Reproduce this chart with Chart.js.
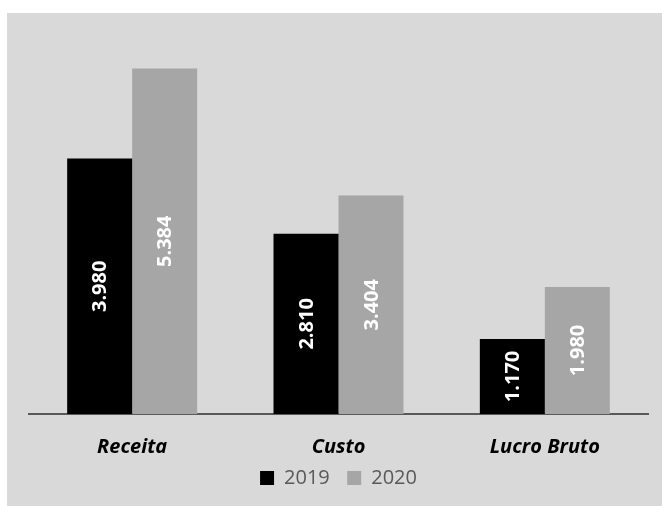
<!DOCTYPE html>
<html>
<head>
<meta charset="utf-8">
<script src="https://cdn.jsdelivr.net/npm/chart.js@4.4.1/dist/chart.umd.min.js"></script>
<style>
  html, body { margin: 0; padding: 0; background: #fff; }
  #wrap { position: absolute; left: 7px; top: 13px; width: 655px; height: 493px; background: #d9d9d9; }
</style>
</head>
<body>
<div id="wrap"><canvas id="chart" width="655" height="493"></canvas></div>
<script>
const categories = ['Receita', 'Custo', 'Lucro Bruto'];
const years = ['2019', '2020'];
const values2019 = [3980, 2810, 1170];
const values2020 = [5384, 3404, 1980];

function fmt(v) {
  return String(v).replace(/\B(?=(\d{3})+(?!\d))/g, '.');
}

// rotated white value inside each bar
const barLabels = {
  id: 'barLabels',
  afterDatasetsDraw(chart) {
    const ctx = chart.ctx;
    ctx.save();
    ctx.fillStyle = '#fff';
    ctx.font = 'bold 20px "Open Sans"';
    ctx.textAlign = 'center';
    ctx.textBaseline = 'middle';
    chart.data.datasets.forEach((ds, i) => {
      chart.getDatasetMeta(i).data.forEach((bar, j) => {
        const cy = (bar.y + bar.base) / 2;
        ctx.save();
        ctx.translate(bar.x, cy);
        ctx.rotate(-Math.PI / 2);
        ctx.fillText(fmt(ds.data[j]), 0, 1);
        ctx.restore();
      });
    });
    ctx.restore();
  }
};

Chart.defaults.font.family = '"Open Sans"';

new Chart(document.getElementById('chart'), {
  type: 'bar',
  data: {
    labels: categories,
    datasets: [
      { label: years[0], data: values2019, backgroundColor: '#000000' },
      { label: years[1], data: values2020, backgroundColor: '#a6a6a6' }
    ]
  },
  options: {
    responsive: false,
    animation: false,
    layout: { padding: { top: 16, left: 22, right: 14, bottom: 8 } },
    datasets: { bar: { categoryPercentage: 0.63, barPercentage: 1.0 } },
    scales: {
      x: {
        grid: { display: false, drawTicks: false },
        border: { display: true, color: '#595959', width: 2 },
        ticks: { color: '#000', padding: 21, font: { size: 20, weight: 'bold', style: 'italic' } },
        // keep the legend tucked close under the labels
        afterFit: (scale) => { scale.height = 47; }
      },
      y: {
        display: false,
        min: 0,
        max: 6000
      }
    },
    plugins: {
      legend: {
        position: 'bottom',
        labels: {
          color: '#595959', boxWidth: 14, boxHeight: 14, padding: 7, font: { size: 20 },
          // trailing spaces widen the gap between items without growing the legend height
          generateLabels: (chart) => Chart.defaults.plugins.legend.labels.generateLabels(chart)
            .map((l, i, arr) => ({ ...l, text: i < arr.length - 1 ? l.text + '  ' : l.text }))
        }
      },
      tooltip: { enabled: false }
    }
  },
  plugins: [barLabels]
});
</script>
</body>
</html>
